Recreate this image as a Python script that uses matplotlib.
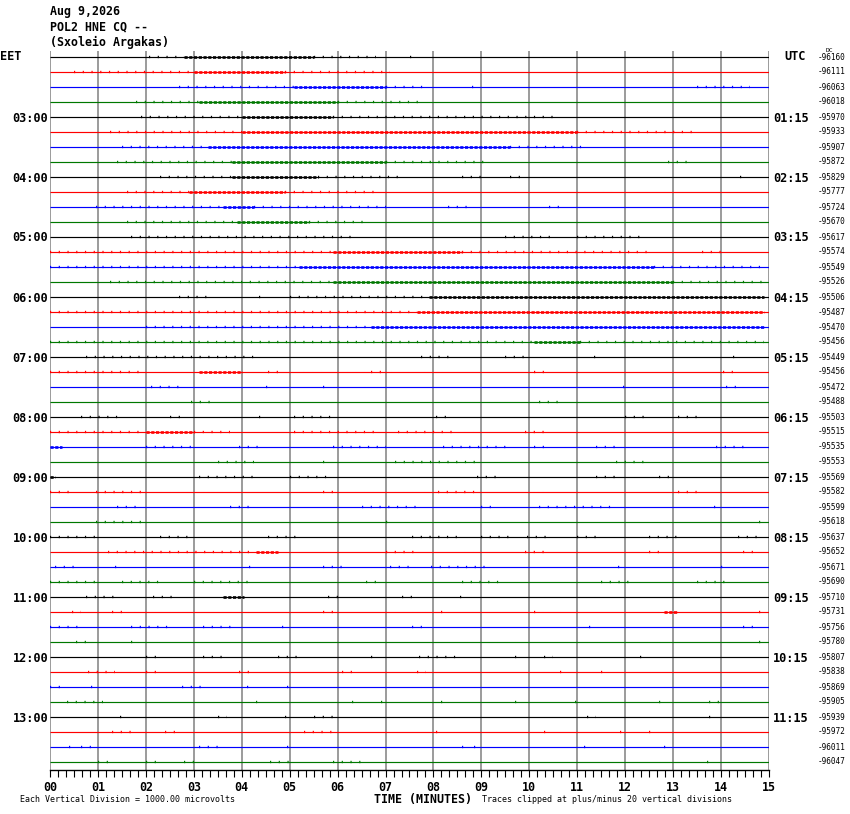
import matplotlib
matplotlib.use("Agg")
import matplotlib.pyplot as plt
from matplotlib.ticker import MultipleLocator


W, H = 850, 814

# labels and offsets
header = ["Aug 9,2026", "POL2 HNE CQ --", "(Sxoleio Argakas)"]
eet_hours = ["03:00", "04:00", "05:00", "06:00", "07:00", "08:00",
             "09:00", "10:00", "11:00", "12:00", "13:00"]
utc_hours = ["01:15", "02:15", "03:15", "04:15", "05:15", "06:15",
             "07:15", "08:15", "09:15", "10:15", "11:15"]
minute_labels = ["%02d" % m for m in range(16)]
dc_offsets = [-96160, -96111, -96063, -96018, -95970, -95933, -95907, -95872,
              -95829, -95777, -95724, -95670, -95617, -95574, -95549, -95526,
              -95506, -95487, -95470, -95456, -95449, -95456, -95472, -95488,
              -95503, -95515, -95535, -95553, -95569, -95582, -95599, -95618,
              -95637, -95652, -95671, -95690, -95710, -95731, -95756, -95780,
              -95807, -95838, -95869, -95905, -95939, -95972, -96011, -96047]
trace_colors = ["black", "#ff0000", "#0000ff", "#007800"]

# noisy stretches on each trace: (start minute, end minute, level)
bursts = [
    [(2.07, 2.8, 1), (2.8, 5.5, 2), (5.5, 6.8, 1), (7.5, 7.55, 1)],
    [(0.5, 3.0, 1), (3.0, 4.9, 2), (4.9, 7.1, 1)],
    [(2.7, 5.1, 1), (5.1, 7.0, 2), (7.0, 7.85, 1), (8.8, 8.85, 1), (13.5, 14.6, 1)],
    [(1.8, 3.1, 1), (3.1, 6.0, 2), (6.0, 7.75, 1)],
    [(1.9, 4.0, 1), (4.0, 5.9, 2), (5.9, 10.6, 1)],
    [(1.25, 4.0, 1), (4.0, 11.0, 2), (11.0, 13.5, 1)],
    [(1.5, 3.3, 1), (3.3, 9.6, 2), (9.6, 11.1, 1)],
    [(1.4, 3.8, 1), (3.8, 7.0, 2), (7.0, 9.1, 1), (12.9, 13.3, 1)],
    [(2.3, 3.8, 1), (3.8, 5.6, 2), (5.6, 7.3, 1), (8.6, 9.1, 1), (9.6, 9.9, 1), (14.4, 14.45, 1)],
    [(1.6, 2.9, 1), (2.9, 4.9, 2), (4.9, 6.9, 1)],
    [(0.95, 3.6, 1), (3.6, 4.25, 2), (4.25, 7.0, 1), (8.3, 8.8, 1), (10.4, 10.7, 1)],
    [(1.6, 3.9, 1), (3.9, 5.4, 2), (5.4, 6.6, 1)],
    [(1.7, 6.3, 1), (9.5, 10.5, 1), (11.0, 12.4, 1)],
    [(0.0, 5.9, 1), (5.9, 8.6, 2), (8.6, 12.5, 1), (13.6, 14.1, 1)],
    [(0.0, 5.2, 1), (5.2, 12.6, 2), (12.6, 14.9, 1)],
    [(1.25, 5.9, 1), (5.9, 13.0, 2), (13.0, 14.9, 1)],
    [(2.7, 3.3, 1), (4.35, 4.4, 1), (5.0, 7.9, 1), (7.9, 14.9, 2)],
    [(0.0, 7.65, 1), (7.65, 14.9, 2)],
    [(2.0, 6.7, 1), (6.7, 14.9, 2)],
    [(0.0, 10.1, 1), (10.1, 11.05, 2), (11.05, 14.9, 1)],
    [(0.75, 4.25, 1), (7.75, 8.4, 1), (9.5, 9.9, 1), (11.35, 11.4, 1), (14.25, 14.3, 1)],
    [(0.0, 2.0, 1), (3.1, 4.0, 2), (4.55, 4.85, 1), (6.7, 6.9, 1), (10.1, 10.4, 1), (14.05, 14.35, 1)],
    [(2.1, 2.7, 1), (4.5, 4.65, 1), (5.7, 5.85, 1), (11.95, 12.05, 1), (14.1, 14.45, 1)],
    [(2.95, 3.4, 1), (10.2, 10.7, 1)],
    [(0.65, 1.5, 1), (2.5, 2.8, 1), (4.35, 4.4, 1), (5.1, 5.9, 1), (8.05, 8.3, 1), (12.0, 12.5, 1), (13.1, 13.6, 1)],
    [(0.0, 2.0, 1), (2.0, 3.0, 2), (3.0, 3.75, 1), (5.1, 6.9, 1), (7.25, 8.5, 1), (9.9, 10.45, 1)],
    [(0.0, 0.25, 2), (2.0, 3.0, 1), (3.95, 4.35, 1), (5.9, 7.0, 1), (8.2, 9.6, 1), (10.1, 10.45, 1), (11.4, 11.9, 1), (13.9, 14.6, 1)],
    [(3.5, 4.25, 1), (5.7, 5.8, 1), (7.2, 9.0, 1), (11.8, 12.4, 1)],
    [(0.0, 0.1, 2), (3.1, 4.25, 1), (5.0, 5.9, 1), (8.9, 9.3, 1), (11.4, 11.8, 1), (12.7, 13.0, 1)],
    [(0.0, 0.45, 1), (0.95, 2.0, 1), (5.7, 6.0, 1), (8.1, 8.9, 1), (13.1, 13.5, 1)],
    [(1.4, 1.9, 1), (3.75, 4.15, 1), (6.5, 7.65, 1), (9.0, 9.3, 1), (10.2, 11.8, 1), (13.85, 13.9, 1)],
    [(0.95, 2.0, 1), (7.0, 7.05, 1), (14.8, 14.85, 1)],
    [(0.0, 0.95, 1), (2.3, 3.0, 1), (4.55, 5.2, 1), (7.55, 8.6, 1), (9.0, 9.6, 1), (9.95, 10.45, 1), (11.0, 11.5, 1), (12.5, 13.2, 1), (14.35, 14.8, 1)],
    [(1.2, 4.3, 1), (4.3, 4.75, 2), (7.0, 7.65, 1), (9.9, 10.3, 1), (12.5, 12.7, 1), (14.45, 14.8, 1)],
    [(0.1, 0.5, 1), (1.35, 1.4, 1), (4.15, 4.2, 1), (5.7, 6.1, 1), (7.1, 7.55, 1), (7.95, 9.1, 1), (11.85, 11.95, 1), (14.0, 14.05, 1)],
    [(0.0, 0.95, 1), (1.5, 2.3, 1), (3.0, 4.25, 1), (6.6, 6.8, 1), (8.6, 9.5, 1), (11.5, 12.2, 1), (13.5, 14.1, 1)],
    [(0.75, 1.45, 1), (2.15, 2.7, 1), (3.6, 4.05, 2), (5.8, 6.1, 1), (7.35, 7.6, 1), (8.55, 8.6, 1)],
    [(0.45, 0.65, 1), (1.3, 1.5, 1), (5.7, 5.9, 1), (8.15, 8.2, 1), (10.1, 10.15, 1), (12.8, 13.1, 2), (14.8, 14.85, 1)],
    [(0.0, 0.6, 1), (1.7, 2.5, 1), (3.2, 3.85, 1), (4.85, 4.9, 1), (7.55, 7.85, 1), (11.25, 11.3, 1), (14.45, 14.75, 1)],
    [(0.55, 0.8, 1), (1.7, 1.75, 1), (14.8, 14.95, 1)],
    [(2.0, 2.3, 1), (3.2, 3.6, 1), (4.75, 5.2, 1), (6.7, 6.85, 1), (7.7, 8.5, 1), (9.7, 9.8, 1), (10.3, 10.5, 1), (12.3, 12.35, 1)],
    [(0.8, 1.35, 1), (2.0, 2.3, 1), (3.95, 4.15, 1), (6.1, 6.4, 1), (7.65, 7.85, 1), (10.65, 10.7, 1), (11.5, 11.65, 1)],
    [(0.0, 0.35, 1), (0.85, 0.95, 1), (2.75, 3.25, 1), (4.1, 4.25, 1), (4.95, 5.0, 1)],
    [(0.35, 1.1, 1), (4.3, 4.35, 1), (6.3, 6.35, 1), (6.9, 6.95, 1), (8.15, 8.2, 1), (9.7, 9.75, 1), (10.95, 11.0, 1), (12.7, 12.75, 1), (13.75, 14.05, 1)],
    [(1.45, 1.5, 1), (3.5, 3.7, 1), (4.9, 4.95, 1), (5.5, 6.0, 1), (11.2, 11.4, 1), (13.75, 13.8, 1)],
    [(1.3, 1.75, 1), (2.4, 2.7, 1), (5.3, 6.0, 1), (8.05, 8.1, 1), (10.3, 10.35, 1), (11.9, 11.95, 1), (12.5, 12.55, 1)],
    [(0.4, 0.45, 1), (0.65, 0.95, 1), (3.1, 3.5, 1), (4.95, 5.05, 1), (8.6, 8.65, 1), (8.85, 8.9, 1), (11.15, 11.2, 1), (12.8, 12.85, 1)],
    [(1.0, 1.3, 1), (2.0, 2.3, 1), (2.8, 3.15, 1), (4.6, 5.0, 1), (5.9, 6.5, 1), (13.7, 13.75, 1)],
]

n = len(dc_offsets)

fig = plt.figure(figsize=(W / 100, H / 100), dpi=100)
fig.patch.set_facecolor("white")


# pixel position (from top-left) -> figure fraction
def px(x, y):
    return x / W, 1 - y / H


# plot area in pixels: x 50..769, y 51..770 ; first trace at y=57, 15 px apart
left, right, top, bottom = 50, 769, 51, 770
ax = fig.add_axes([left / W, 1 - bottom / H, (right - left) / W, (bottom - top) / H])
ax.set_xlim(0, 15)
ax.set_ylim((bottom - 57) / 15, (top - 57) / 15)

for s in ["top", "left", "right"]:
    ax.spines[s].set_visible(False)
ax.spines["bottom"].set_linewidth(1.0)

# minute grid
ax.vlines(range(16), (bottom - 57) / 15, (top - 57) / 15, colors="#808080", lw=1.1, zorder=1)

mono = "DejaVu Sans Mono"

for i in range(n):
    c = trace_colors[i % 4]
    ax.plot([0, 15], [i, i], color=c, lw=0.85, zorder=2, solid_capstyle="butt")
    for a, b, lev in bursts[i]:
        if lev == 1:
            ax.plot([a, b], [i, i], color=c, lw=1.7, dashes=(0.5, 3.2), zorder=3)
        else:
            ax.plot([a, b], [i, i], color=c, lw=1.9, dashes=(1.2, 0.6), zorder=3)

    # DC offset on the right
    fig.text(*px(818, 57 + 15 * i), str(dc_offsets[i]), fontsize=5.6,
             family=mono, ha="left", va="center")

for k in range(len(eet_hours)):
    yy = 57 + 15 * (4 + 4 * k)
    fig.text(*px(48, yy + 1), eet_hours[k], fontsize=8.6, family=mono,
             weight="bold", ha="right", va="center")
    fig.text(*px(773, yy + 1), utc_hours[k], fontsize=8.6, family=mono,
             weight="bold", ha="left", va="center")

fig.text(*px(0, 57), "EET", fontsize=8.6, family=mono, weight="bold", ha="left", va="center")
fig.text(*px(784, 57), "UTC", fontsize=8.6, family=mono, weight="bold", ha="left", va="center")
fig.text(*px(826, 50), "DC", fontsize=4.6, family=mono, ha="left", va="center")

for k, line in enumerate(header):
    fig.text(*px(50, 12 + 15 * k), line, fontsize=8.4, family=mono, weight="bold",
             ha="left", va="center")

# bottom axis
ax.set_xticks(range(16))
ax.set_xticklabels(minute_labels, fontsize=8.4, family=mono, weight="bold")
ax.xaxis.set_minor_locator(MultipleLocator(1 / 6))
ax.tick_params(axis="x", which="both", direction="out", length=5, width=0.8,
               color="black", pad=3)
ax.set_yticks([])

fig.text(*px(423, 799), "TIME (MINUTES)", fontsize=8.4, family=mono, weight="bold",
         ha="center", va="center")
fig.text(*px(20, 800), "Each Vertical Division = 1000.00 microvolts", fontsize=6.0,
         family=mono, ha="left", va="center")
fig.text(*px(482, 800), "Traces clipped at plus/minus 20 vertical divisions", fontsize=6.0,
         family=mono, ha="left", va="center")

fig.savefig("out.png", dpi=100, facecolor="white")
